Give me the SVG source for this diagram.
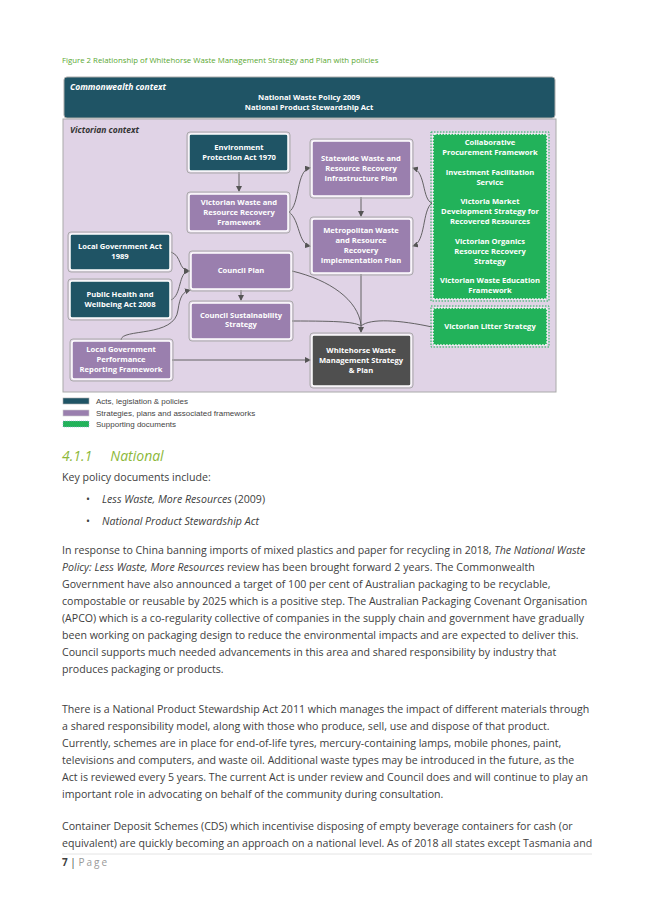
<svg xmlns="http://www.w3.org/2000/svg" width="653" height="923" viewBox="0 0 653 923">
<defs>
<marker id="ah" markerWidth="6" markerHeight="6" refX="5" refY="3" orient="auto" markerUnits="userSpaceOnUse"><path d="M0,0 L6,3 L0,6 z" fill="#555"/></marker>
<style>
.t{font-family:"Open Sans","Liberation Sans",sans-serif;font-size:7.6px;font-weight:bold;fill:#fff;text-anchor:middle}
.teal{fill:#1f5465;stroke:#fff;stroke-width:1.5}
.pur{fill:#9a7fae;stroke:#fff;stroke-width:1.5}
.grn{fill:#22b25a;stroke:#fff;stroke-width:1.5;stroke-dasharray:1.5 1.5}
.o{fill:none;stroke:#aaa;stroke-width:1}
.c{fill:none;stroke:#555;stroke-width:0.9}
.b{font-family:"Open Sans","Liberation Sans",sans-serif;font-size:10.6px;fill:#404040}
.l{font-family:"Liberation Sans",sans-serif;font-size:8px;fill:#444}
</style>
</defs>
<rect width="653" height="923" fill="#fff"/>
<text x="62" y="63" font-family="Open Sans,Liberation Sans,sans-serif" font-size="7.8" fill="#5aa832">Figure 2 Relationship of Whitehorse Waste Management Strategy and Plan with policies</text>
<g id="commonwealth"><rect x="64" y="77" width="491" height="41" rx="3" fill="#1f5465" stroke="#aaa"/>
<text x="70" y="90" class="t" style="text-anchor:start;font-style:italic;font-size:8.5px">Commonwealth context</text>
<text x="309" y="100" class="t">National Waste Policy 2009</text>
<text x="309" y="110" class="t">National Product Stewardship Act</text></g>
<g id="victorian"><rect x="63" y="119" width="493" height="273" fill="#e0d3e6" stroke="#aaa"/>
<text x="70" y="133" class="t" style="text-anchor:start;font-style:italic;font-size:8.5px;fill:#333">Victorian context</text></g>
<g id="connectors">
<line class="c" x1="239" y1="172" x2="239" y2="191" marker-end="url(#ah)"/>
<path class="c" d="M289,212 C300,205 296,170 310,168" marker-end="url(#ah)"/>
<path class="c" d="M289,212 C300,220 298,244 310,246" marker-end="url(#ah)"/>
<line class="c" x1="361" y1="197" x2="361" y2="216" marker-end="url(#ah)"/>
<path class="c" d="M432,203 C422,200 426,172 413,168" marker-end="url(#ah)"/>
<path class="c" d="M432,203 C422,210 426,242 413,246" marker-end="url(#ah)"/>
<path class="c" d="M171,252 C182,256 178,270 189,271" marker-end="url(#ah)"/>
<path class="c" d="M171,300 C182,295 178,272 189,271" marker-end="url(#ah)"/>
<path class="c" d="M121,340 C121,328 175,338 178,310 C180,296 183,292 190,290" marker-end="url(#ah)"/>
<line class="c" x1="241" y1="290" x2="241" y2="300" marker-end="url(#ah)"/>
<path class="c" d="M292,271 C330,280 358,300 361,325"/>
<line class="c" x1="361" y1="274" x2="361" y2="332" marker-end="url(#ah)"/>
<path class="c" d="M292,321 C340,321 355,322 361,326"/>
<path class="c" d="M432,327 C400,320 370,318 361,326"/>
<line class="c" x1="172" y1="360" x2="310" y2="360" marker-end="url(#ah)"/>
</g>
<g id="env"><rect class="o" x="187" y="132" width="103" height="41" rx="3"/><rect class="teal" x="189" y="134" width="99" height="37" rx="2"/><text class="t" x="239" y="150">Environment</text><text class="t" x="239" y="160">Protection Act 1970</text></g>
<g id="vicwaste"><rect class="o" x="187" y="192" width="103" height="41" rx="3"/><rect class="pur" x="189" y="194" width="99" height="37" rx="2"/><text class="t" x="239" y="205">Victorian Waste and</text><text class="t" x="239" y="215">Resource Recovery</text><text class="t" x="239" y="225">Framework</text></g>
<g id="statewide"><rect class="o" x="310" y="139" width="103" height="59" rx="3"/><rect class="pur" x="312" y="141" width="99" height="55" rx="2"/><text class="t" x="361" y="161">Statewide Waste and</text><text class="t" x="361" y="171">Resource Recovery</text><text class="t" x="361" y="181">Infrastructure Plan</text></g>
<g id="metro"><rect class="o" x="310" y="217" width="103" height="58" rx="3"/><rect class="pur" x="312" y="219" width="99" height="54" rx="2"/><text class="t" x="361" y="233">Metropolitan Waste</text><text class="t" x="361" y="243">and Resource</text><text class="t" x="361" y="253">Recovery</text><text class="t" x="361" y="263">Implementation Plan</text></g>
<g id="supporting"><rect x="431" y="132" width="118" height="169" fill="none" stroke="#22b25a" stroke-dasharray="1.5 1.5"/><rect class="grn" x="433" y="134" width="114" height="165" rx="2"/>
<text class="t" x="490" y="145">Collaborative</text><text class="t" x="490" y="155">Procurement Framework</text>
<text class="t" x="490" y="175">Investment Facilitation</text><text class="t" x="490" y="185">Service</text>
<text class="t" x="490" y="204">Victoria Market</text><text class="t" x="490" y="214">Development Strategy for</text><text class="t" x="490" y="224">Recovered Resources</text>
<text class="t" x="490" y="244">Victorian Organics</text><text class="t" x="490" y="254">Resource Recovery</text><text class="t" x="490" y="264">Strategy</text>
<text class="t" x="490" y="283">Victorian Waste Education</text><text class="t" x="490" y="293">Framework</text></g>
<g id="litter"><rect x="431" y="306" width="118" height="41" fill="none" stroke="#22b25a" stroke-dasharray="1.5 1.5"/><rect class="grn" x="433" y="308" width="114" height="37" rx="2"/><text class="t" x="490" y="329">Victorian Litter Strategy</text></g>
<g id="lga"><rect class="o" x="68" y="232" width="104" height="40" rx="3"/><rect class="teal" x="70" y="234" width="100" height="36" rx="2"/><text class="t" x="120" y="249">Local Government Act</text><text class="t" x="120" y="259">1989</text></g>
<g id="health"><rect class="o" x="68" y="279" width="104" height="41" rx="3"/><rect class="teal" x="70" y="281" width="100" height="37" rx="2"/><text class="t" x="120" y="297">Public Health and</text><text class="t" x="120" y="307">Wellbeing Act 2008</text></g>
<g id="councilplan"><rect class="o" x="189" y="251" width="104" height="40" rx="3"/><rect class="pur" x="191" y="253" width="100" height="36" rx="2"/><text class="t" x="241" y="273">Council Plan</text></g>
<g id="sustain"><rect class="o" x="189" y="301" width="104" height="40" rx="3"/><rect class="pur" x="191" y="303" width="100" height="36" rx="2"/><text class="t" x="241" y="318">Council Sustainability</text><text class="t" x="241" y="327">Strategy</text></g>
<g id="lgprf"><rect class="o" x="70" y="339" width="103" height="42" rx="3"/><rect class="pur" x="72" y="341" width="99" height="38" rx="2"/><text class="t" x="121" y="352">Local Government</text><text class="t" x="121" y="362">Performance</text><text class="t" x="121" y="372">Reporting Framework</text></g>
<g id="whitehorse"><rect class="o" x="310" y="333" width="103" height="55" rx="3"/><rect x="312" y="335" width="99" height="51" rx="2" fill="#4f4f4f" stroke="#fff" stroke-width="1.5"/><text class="t" x="361" y="353">Whitehorse Waste</text><text class="t" x="361" y="363">Management Strategy</text><text class="t" x="361" y="373">&amp; Plan</text></g>
<g id="legend">
<rect x="63" y="398" width="26" height="6" fill="#1f5465" stroke="#aaa" stroke-width="0.6"/><text class="l" x="96" y="404">Acts, legislation &amp; policies</text>
<rect x="63" y="410" width="26" height="6" fill="#9a7fae" stroke="#ccc" stroke-width="0.6"/><text class="l" x="96" y="416">Strategies, plans and associated frameworks</text>
<rect x="63" y="421" width="26" height="6" fill="#22b25a" stroke="#9ad" stroke-width="0.6" stroke-dasharray="1 1"/><text class="l" x="96" y="427">Supporting documents</text></g>
<text x="62" y="461" font-family="Open Sans,Liberation Sans,sans-serif" font-size="14" font-style="italic" fill="#8cb83a" xml:space="preserve">4.1.1     National</text>
<text class="b" x="62" y="481">Key policy documents include:</text>
<text class="b" x="86" y="503">•</text><text class="b" x="102" y="503" font-style="italic">Less Waste, More Resources <tspan font-style="normal">(2009)</tspan></text>
<text class="b" x="86" y="525">•</text><text class="b" x="102" y="525" font-style="italic">National Product Stewardship Act</text>
<text class="b" x="62" y="554">In response to China banning imports of mixed plastics and paper for recycling in 2018, <tspan font-style="italic">The National Waste</tspan></text>
<text class="b" x="62" y="571"><tspan font-style="italic">Policy: Less Waste, More Resources</tspan> review has been brought forward 2 years. The Commonwealth</text>
<text class="b" x="62" y="588">Government have also announced a target of 100 per cent of Australian packaging to be recyclable,</text>
<text class="b" x="62" y="605">compostable or reusable by 2025 which is a positive step. The Australian Packaging Covenant Organisation</text>
<text class="b" x="62" y="622">(APCO) which is a co-regularity collective of companies in the supply chain and government have gradually</text>
<text class="b" x="62" y="639">been working on packaging design to reduce the environmental impacts and are expected to deliver this.</text>
<text class="b" x="62" y="656">Council supports much needed advancements in this area and shared responsibility by industry that</text>
<text class="b" x="62" y="673">produces packaging or products.</text>
<text class="b" x="62" y="713">There is a National Product Stewardship Act 2011 which manages the impact of different materials through</text>
<text class="b" x="62" y="730">a shared responsibility model, along with those who produce, sell, use and dispose of that product.</text>
<text class="b" x="62" y="747">Currently, schemes are in place for end-of-life tyres, mercury-containing lamps, mobile phones, paint,</text>
<text class="b" x="62" y="764">televisions and computers, and waste oil. Additional waste types may be introduced in the future, as the</text>
<text class="b" x="62" y="781">Act is reviewed every 5 years. The current Act is under review and Council does and will continue to play an</text>
<text class="b" x="62" y="798">important role in advocating on behalf of the community during consultation.</text>
<text class="b" x="62" y="830">Container Deposit Schemes (CDS) which incentivise disposing of empty beverage containers for cash (or</text>
<text class="b" x="62" y="847">equivalent) are quickly becoming an approach on a national level. As of 2018 all states except Tasmania and</text>
<line x1="62" y1="854" x2="592" y2="854" stroke="#ddd" stroke-width="0.8"/>
<text x="62" y="866" font-family="Open Sans,Liberation Sans,sans-serif" font-size="10" fill="#404040"><tspan font-weight="bold">7</tspan> | <tspan fill="#999" letter-spacing="2">Page</tspan></text>
</svg>
